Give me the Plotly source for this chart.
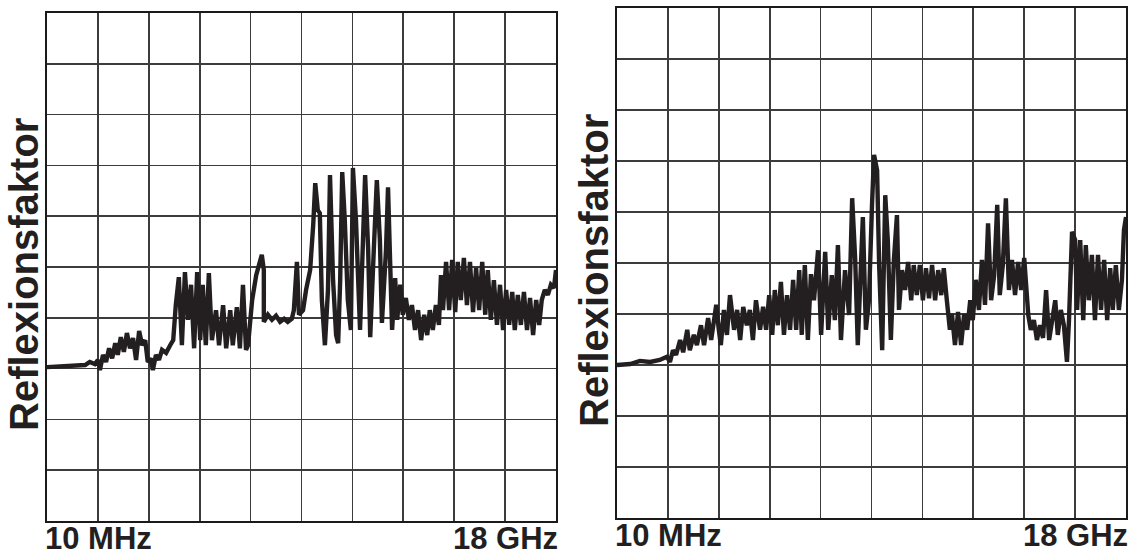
import plotly.graph_objects as go

# ---- data (grid units: x 0..10 = 10 MHz..18 GHz, y 0..10) ----
left_x = [0, 0.26, 0.55, 0.75, 0.84, 0.94, 1.0, 1.04, 1.1, 1.16, 1.22, 1.28, 1.34, 1.39, 1.45, 1.51, 1.57, 1.63,
          1.69, 1.75, 1.81, 1.87, 1.93, 1.98, 2.04, 2.08, 2.14, 2.2, 2.26, 2.34, 2.42, 2.48, 2.53, 2.59, 2.65, 2.71,
          2.77, 2.83, 2.89, 2.95, 3.01, 3.06, 3.12, 3.18, 3.24, 3.32, 3.38, 3.46, 3.52, 3.6, 3.65, 3.73, 3.79, 3.85,
          3.91, 3.95, 4.03, 4.11, 4.22, 4.26, 4.26, 4.34, 4.42, 4.5, 4.58, 4.66, 4.73, 4.81, 4.85, 4.91, 4.95, 5.03,
          5.09, 5.17, 5.23, 5.27, 5.32, 5.36, 5.4, 5.46, 5.52, 5.56, 5.62, 5.68, 5.72, 5.76, 5.8, 5.85, 5.91, 5.97,
          6.01, 6.07, 6.15, 6.25, 6.31, 6.35, 6.42, 6.48, 6.54, 6.58, 6.66, 6.7, 6.74, 6.78, 6.84, 6.88, 6.94, 6.99,
          7.05, 7.11, 7.17, 7.23, 7.29, 7.35, 7.41, 7.47, 7.52, 7.58, 7.64, 7.7, 7.74, 7.78, 7.84, 7.9, 7.96, 8.02,
          8.07, 8.13, 8.19, 8.25, 8.31, 8.37, 8.43, 8.49, 8.55, 8.61, 8.66, 8.72, 8.78, 8.84, 8.9, 8.96, 9.02, 9.08,
          9.14, 9.19, 9.25, 9.31, 9.37, 9.43, 9.49, 9.55, 9.61, 9.67, 9.72, 9.78, 9.84, 9.9, 9.96, 10.0]
left_y = [3.03, 3.05, 3.07, 3.07, 3.13, 3.09, 3.17, 2.97, 3.27, 3.13, 3.4, 3.2, 3.5, 3.27, 3.62, 3.33, 3.7, 3.4,
          3.6, 3.17, 3.74, 3.46, 3.56, 3.13, 3.2, 2.97, 3.27, 3.17, 3.37, 3.31, 3.46, 3.56, 4.25, 4.8, 3.46, 4.9,
          3.96, 4.65, 3.4, 4.9, 3.56, 4.65, 3.46, 4.88, 3.56, 4.15, 3.46, 4.25, 3.4, 4.15, 3.46, 4.21, 3.4, 4.65,
          3.37, 3.46, 4.35, 4.84, 5.24, 4.94, 3.92, 4.06, 3.96, 4.04, 3.92, 3.98, 3.92, 3.98, 4.15, 5.1, 4.06, 4.15,
          4.55, 4.94, 5.83, 6.65, 6.12, 6.06, 4.35, 3.46, 4.55, 6.81, 4.74, 3.66, 3.5, 4.74, 6.87, 5.93, 4.35, 3.76,
          6.95, 5.93, 3.76, 6.81, 5.33, 3.62, 5.33, 6.71, 5.53, 3.9, 5.33, 6.57, 5.14, 3.76, 4.78, 3.96, 4.65, 4.06,
          4.39, 3.96, 4.25, 3.76, 4.15, 3.56, 4.06, 3.66, 4.15, 3.76, 4.25, 3.86, 4.84, 4.15, 5.1, 4.15, 5.14, 4.11,
          5.1, 4.35, 5.18, 4.25, 5.1, 4.11, 4.98, 4.15, 5.1, 4.06, 4.94, 3.96, 4.74, 3.86, 4.65, 3.76, 4.55, 3.86,
          4.51, 3.76, 4.45, 3.86, 4.51, 3.76, 4.39, 3.66, 4.35, 3.86, 4.35, 4.55, 4.45, 4.65, 4.59, 4.94]

right_x = [0, 0.26, 0.45, 0.65, 0.84, 0.98, 1.04, 1.1, 1.16, 1.24, 1.3, 1.38, 1.43, 1.51, 1.57, 1.65, 1.71, 1.79,
           1.85, 1.95, 2.0, 2.04, 2.1, 2.16, 2.22, 2.3, 2.36, 2.42, 2.48, 2.55, 2.61, 2.67, 2.73, 2.81, 2.87, 2.93,
           2.99, 3.05, 3.1, 3.16, 3.22, 3.28, 3.34, 3.4, 3.46, 3.52, 3.58, 3.63, 3.69, 3.75, 3.81, 3.87, 3.95, 4.01,
           4.09, 4.15, 4.22, 4.28, 4.34, 4.4, 4.48, 4.56, 4.62, 4.68, 4.73, 4.79, 4.83, 4.89, 4.95, 5.01, 5.05, 5.11,
           5.15, 5.21, 5.27, 5.32, 5.38, 5.44, 5.5, 5.54, 5.6, 5.66, 5.72, 5.78, 5.83, 5.89, 5.95, 6.01, 6.07, 6.13,
           6.19, 6.25, 6.31, 6.37, 6.42, 6.48, 6.54, 6.58, 6.64, 6.7, 6.76, 6.82, 6.88, 6.94, 6.99, 7.05, 7.11, 7.17,
           7.23, 7.29, 7.35, 7.41, 7.47, 7.52, 7.58, 7.64, 7.7, 7.76, 7.82, 7.88, 7.94, 8.0, 8.06, 8.08, 8.13, 8.19,
           8.25, 8.31, 8.37, 8.43, 8.49, 8.55, 8.61, 8.66, 8.72, 8.78, 8.84, 8.88, 8.94, 9.0, 9.04, 9.1, 9.16, 9.21,
           9.27, 9.33, 9.39, 9.45, 9.51, 9.57, 9.63, 9.69, 9.74, 9.8, 9.86, 9.92, 9.96, 10.0]
right_y = [3.0, 3.02, 3.08, 3.06, 3.1, 3.16, 3.06, 3.29, 3.2, 3.49, 3.25, 3.69, 3.29, 3.59, 3.39, 3.78, 3.39, 3.92,
           3.49, 4.18, 3.69, 3.39, 4.08, 3.59, 4.37, 3.69, 4.08, 3.49, 4.14, 3.78, 4.08, 3.49, 4.27, 3.69, 4.14, 3.69,
           4.37, 3.59, 4.47, 3.78, 4.63, 3.59, 4.37, 3.69, 4.67, 3.69, 4.86, 3.59, 4.96, 3.49, 4.78, 4.27, 5.25, 3.59,
           5.22, 3.69, 4.76, 3.88, 5.35, 3.49, 4.86, 3.98, 6.27, 5.06, 3.39, 4.96, 5.9, 3.69, 4.27, 6.14, 7.12, 6.82,
           4.96, 3.29, 6.33, 5.45, 3.49, 5.06, 5.94, 4.08, 4.86, 4.47, 5.02, 4.27, 4.96, 4.37, 4.96, 4.27, 4.9, 4.31,
           4.96, 4.27, 4.86, 4.37, 4.9, 4.27, 3.69, 4.0, 3.39, 4.04, 3.39, 4.0, 3.69, 4.27, 3.88, 4.67, 4.08, 5.06,
           4.18, 5.78, 4.27, 4.76, 6.14, 4.37, 4.96, 6.27, 4.47, 5.06, 4.37, 5.02, 4.47, 5.1, 4.27, 3.98, 3.69, 3.88,
           3.49, 3.78, 3.53, 4.47, 3.49, 3.88, 4.27, 3.59, 4.08, 3.78, 3.06, 3.88, 5.61, 5.45, 4.08, 5.45, 3.88, 5.35,
           4.27, 5.16, 3.88, 5.16, 4.08, 5.06, 3.88, 4.9, 4.08, 4.96, 4.08, 4.67, 5.65, 5.9]

start_label = "10 MHz"
end_label = "18 GHz"
y_title = "Reflexionsfaktor"

W, H = 1140, 556
LINE = "#231f20"
FONT = "Liberation Sans, Arial, sans-serif"

# plot areas in pixels (left, top, right, bottom)
panels = [(47, 13, 556, 521), (617, 8, 1126, 518)]

fig = go.Figure()
fig.add_trace(go.Scatter(x=left_x, y=left_y, mode="lines", line=dict(color=LINE, width=4.4),
                         xaxis="x", yaxis="y", showlegend=False, hoverinfo="skip"))
fig.add_trace(go.Scatter(x=right_x, y=right_y, mode="lines", line=dict(color=LINE, width=4.4),
                         xaxis="x2", yaxis="y2", showlegend=False, hoverinfo="skip"))

axis_common = dict(range=[0, 10], dtick=1, tick0=0, showgrid=True, gridcolor="#3c3c3c", gridwidth=1.6,
                   showline=True, linecolor="#1a1a1a", linewidth=2, mirror=True, showticklabels=False,
                   ticks="", zeroline=False, fixedrange=True)

layout = dict(width=W, height=H, margin=dict(l=0, r=0, t=0, b=0), paper_bgcolor="white",
              plot_bgcolor="white", showlegend=False, hovermode=False)
annotations = []
for i, (l, t, r, b) in enumerate(panels):
    sfx = "" if i == 0 else str(i + 1)
    layout["xaxis" + sfx] = dict(axis_common, domain=[l / W, r / W], anchor="y" + sfx)
    layout["yaxis" + sfx] = dict(axis_common, domain=[1 - b / H, 1 - t / H], anchor="x" + sfx)
    yc = 1 - (b + 17) / H
    annotations.append(dict(x=(l - 3) / W, y=yc, xref="paper", yref="paper",
                            text="<b>%s</b>" % start_label, showarrow=False, xanchor="left", yanchor="middle",
                            borderpad=0, font=dict(family=FONT, size=31, color="#231f20")))
    annotations.append(dict(x=(r + 3) / W, y=yc, xref="paper", yref="paper",
                            text="<b>%s</b>" % end_label, showarrow=False, xanchor="right", yanchor="middle",
                            borderpad=0, font=dict(family=FONT, size=31, color="#231f20")))
    annotations.append(dict(x=(l - 23) / W, y=1 - ((t + b) / 2 + 8) / H, xref="paper", yref="paper",
                            text="<b>%s</b>" % y_title, textangle=-90, showarrow=False,
                            xanchor="center", yanchor="middle",
                            font=dict(family=FONT, size=40, color="#231f20")))
layout["annotations"] = annotations
fig.update_layout(**layout)

fig.write_html("out.html", config={"displayModeBar": False, "staticPlot": True},
               post_script="document.body.style.margin='0';document.body.style.overflow='hidden';")
